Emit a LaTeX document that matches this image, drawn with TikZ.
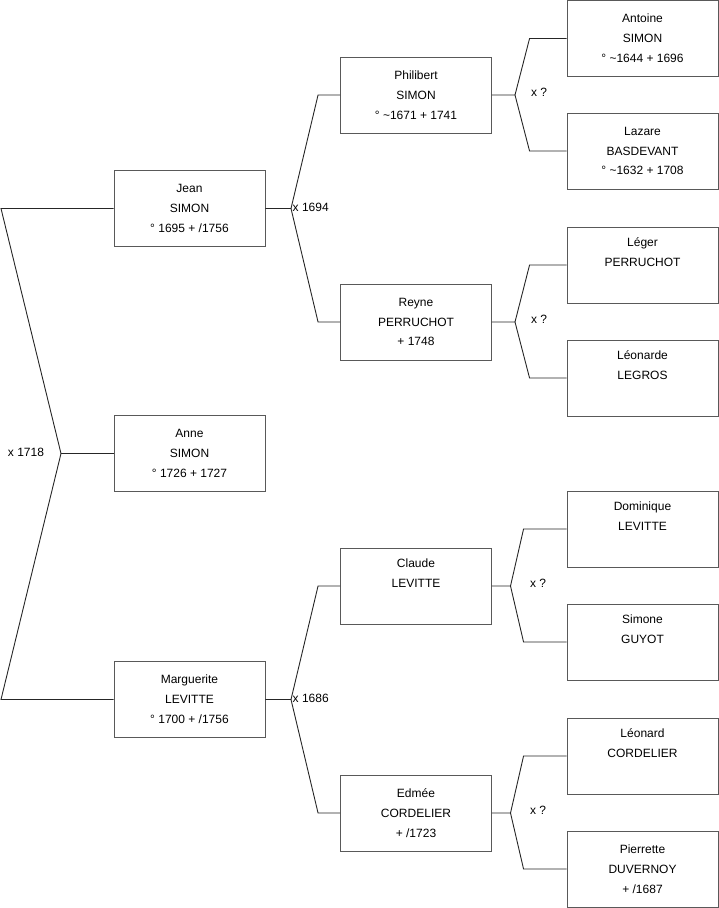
\documentclass[tikz,border=0pt]{standalone}
\usepackage{fontspec}
\setmainfont{Liberation Sans}
\begin{document}
\begin{tikzpicture}[x=1pt,y=-1pt,
  box/.style={draw=black!65, line width=0.9pt, minimum width=151pt, minimum height=76pt, inner sep=0pt,
    align=center, font=\fontsize{12}{19.8}\selectfont},
  lnk/.style={draw=black!85, line width=0.9pt},
  lbl/.style={font=\fontsize{12}{14}\selectfont, inner sep=0pt}]
\useasboundingbox (0,0) rectangle (719,908);
% generation 1
\node[box] (jean) at (189.5,208.5) {Jean\\SIMON\\° 1695 + /1756};
\node[box] (anne) at (189.5,453.5) {Anne\\SIMON\\° 1726 + 1727};
\node[box] (marg) at (189.5,699.5) {Marguerite\\LEVITTE\\° 1700 + /1756};
% generation 2
\node[box] (phil) at (416,95) {Philibert\\SIMON\\° \textasciitilde1671 + 1741};
\node[box] (reyne) at (416,322) {Reyne\\PERRUCHOT\\+ 1748};
\node[box] (claude) at (416,586) {Claude\\LEVITTE\\\strut};
\node[box] (edmee) at (416,813) {Edmée\\CORDELIER\\+ /1723};
% generation 3
\node[box] (antoine) at (642.5,38.5) {Antoine\\SIMON\\° \textasciitilde1644 + 1696};
\node[box] (lazare) at (642.5,151) {Lazare\\BASDEVANT\\° \textasciitilde1632 + 1708};
\node[box] (leger) at (642.5,265) {Léger\\PERRUCHOT\\\strut};
\node[box] (leonarde) at (642.5,378) {Léonarde\\LEGROS\\\strut};
\node[box] (dominique) at (642.5,529) {Dominique\\LEVITTE\\\strut};
\node[box] (simone) at (642.5,642) {Simone\\GUYOT\\\strut};
\node[box] (leonard) at (642.5,756) {Léonard\\CORDELIER\\\strut};
\node[box] (pierrette) at (642.5,869) {Pierrette\\DUVERNOY\\+ /1687};
% left bracket
\coordinate (ltop) at (1,208.5);
\coordinate (lmid) at (61,453.5);
\coordinate (lbot) at (1,699.5);
\draw[lnk] (jean.west) -- (ltop) -- (lmid) -- (lbot) -- (marg.west);
\draw[lnk] (lmid) -- (anne.west);
\node[lbl] (x1718) at (26,452) {x 1718};
% Jean's parents
\coordinate (jj) at (291,208.5);
\draw[lnk] (jean.east) -- (jj) -- ([xshift=-22pt]phil.west) -- (phil.west);
\draw[lnk] (jj) -- ([xshift=-22pt]reyne.west) -- (reyne.west);
\node[lbl,anchor=west] (x1694) at (292.5,207.5) {x 1694};
% Marguerite's parents
\coordinate (mj) at (291,699.5);
\draw[lnk] (marg.east) -- (mj) -- ([xshift=-22pt]claude.west) -- (claude.west);
\draw[lnk] (mj) -- ([xshift=-22pt]edmee.west) -- (edmee.west);
\node[lbl,anchor=west] (x1686) at (292.5,698) {x 1686};
% Philibert's parents
\coordinate (pj) at (515,95);
\draw[lnk] (phil.east) -- (pj) -- ([xshift=-37pt]antoine.west) -- (antoine.west);
\draw[lnk] (pj) -- ([xshift=-37pt]lazare.west) -- (lazare.west);
\node[lbl] (xp) at (539,92.5) {x ?};
% Reyne's parents
\coordinate (rj) at (515,322);
\draw[lnk] (reyne.east) -- (rj) -- ([xshift=-37pt]leger.west) -- (leger.west);
\draw[lnk] (rj) -- ([xshift=-37pt]leonarde.west) -- (leonarde.west);
\node[lbl] (xr) at (539,319.5) {x ?};
% Claude's parents
\coordinate (cj) at (510.5,586);
\draw[lnk] (claude.east) -- (cj) -- ([xshift=-43pt]dominique.west) -- (dominique.west);
\draw[lnk] (cj) -- ([xshift=-43pt]simone.west) -- (simone.west);
\node[lbl] (xc) at (538,583.5) {x ?};
% Edmee's parents
\coordinate (ej) at (510.5,813);
\draw[lnk] (edmee.east) -- (ej) -- ([xshift=-43pt]leonard.west) -- (leonard.west);
\draw[lnk] (ej) -- ([xshift=-43pt]pierrette.west) -- (pierrette.west);
\node[lbl] (xe) at (538,810.5) {x ?};
\end{tikzpicture}
\end{document}
